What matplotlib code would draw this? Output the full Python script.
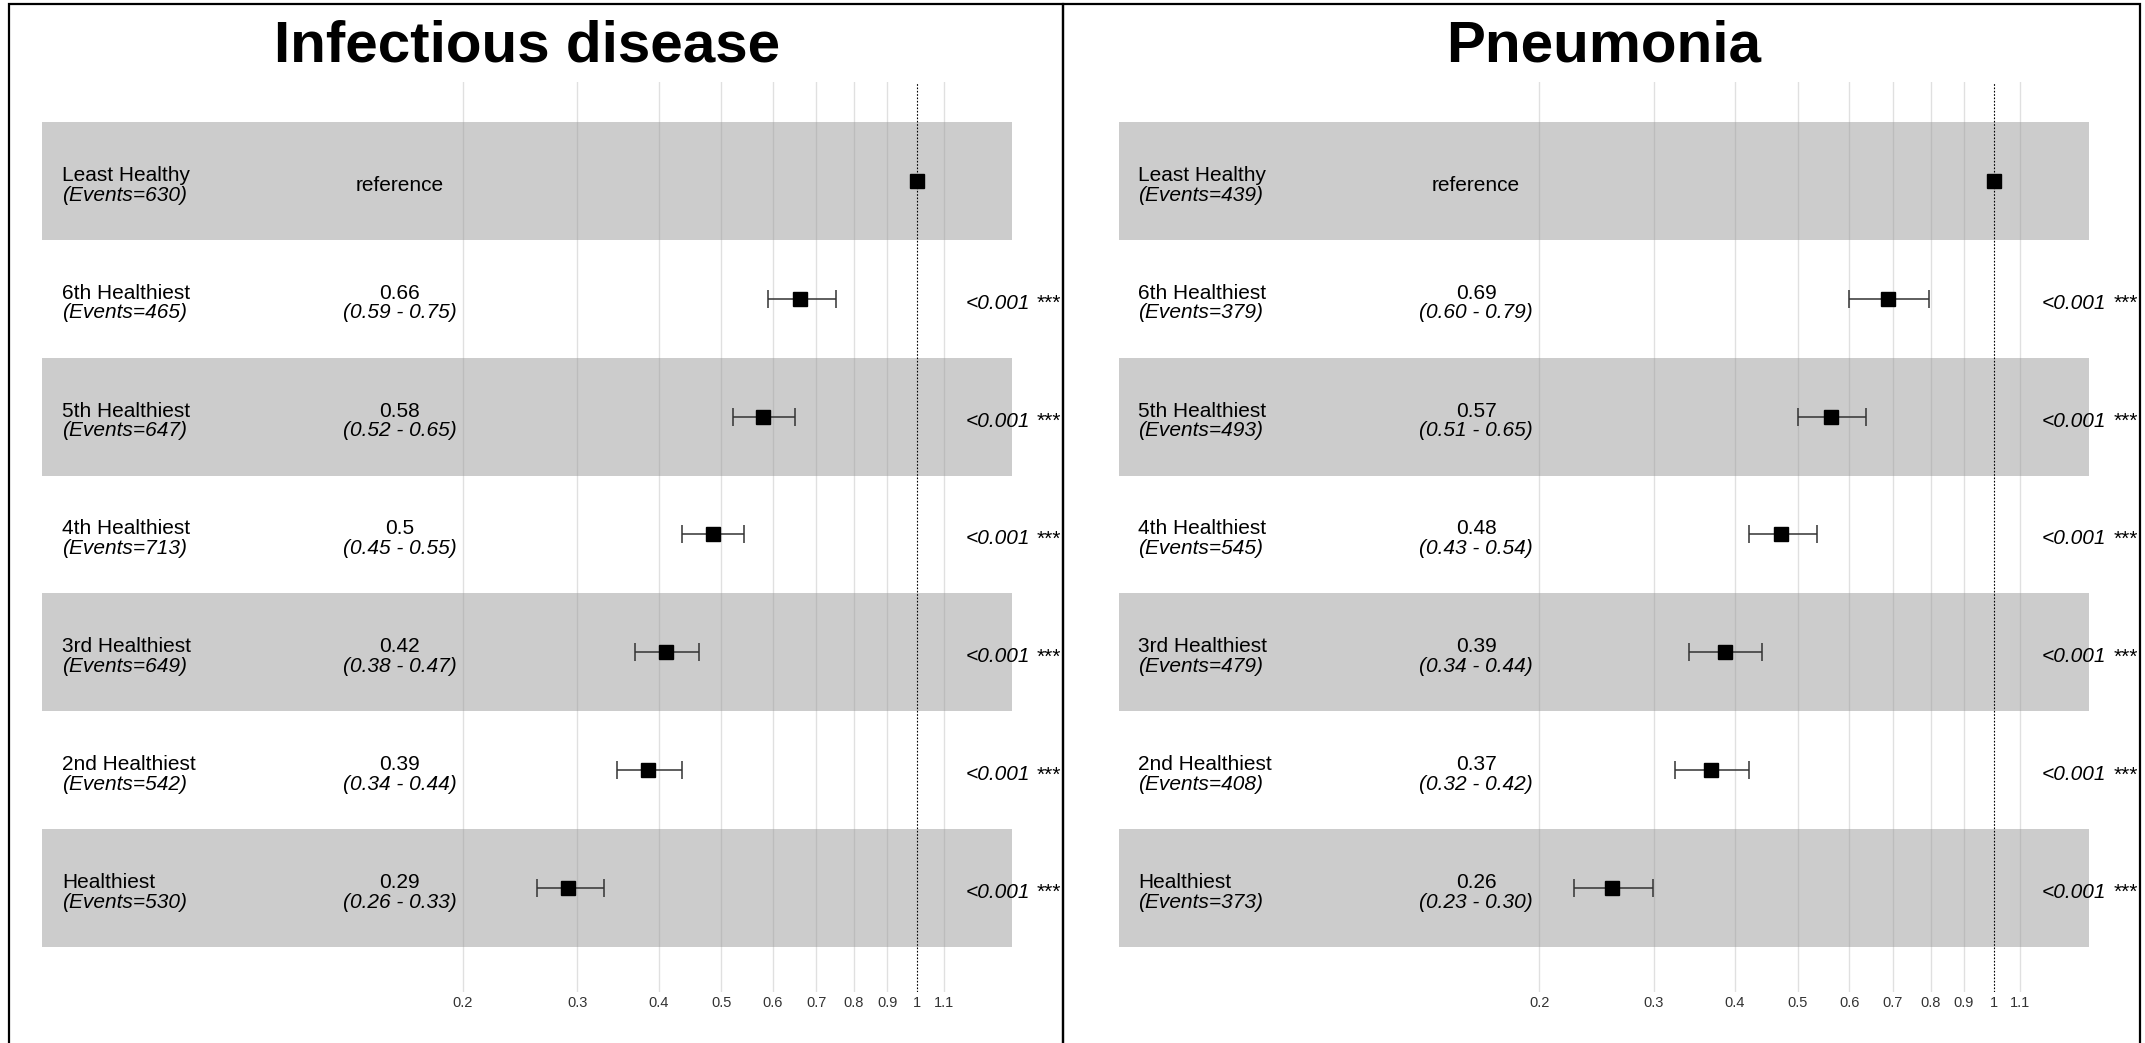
import matplotlib
matplotlib.use('Agg')
import matplotlib.pyplot as plt
import matplotlib.transforms as mtransforms
from matplotlib.patches import Rectangle
from matplotlib.ticker import NullLocator
import numpy as np

plt.rcParams['font.family'] = ['Liberation Sans', 'DejaVu Sans']

groups = ['Least Healthy', '6th Healthiest', '5th Healthiest', '4th Healthiest',
          '3rd Healthiest', '2nd Healthiest', 'Healthiest']

# Infectious disease: printed columns and plotted positions
inf_title = 'Infectious disease'
inf_events = [630, 465, 647, 713, 649, 542, 530]
inf_hr_txt = ['reference', '0.66', '0.58', '0.5', '0.42', '0.39', '0.29']
inf_ci_txt = ['', '(0.59 - 0.75)', '(0.52 - 0.65)', '(0.45 - 0.55)', '(0.38 - 0.47)',
              '(0.34 - 0.44)', '(0.26 - 0.33)']
inf_hr = [1.0, 0.66, 0.58, 0.485, 0.411, 0.386, 0.29]
inf_lo = [np.nan, 0.59, 0.52, 0.434, 0.368, 0.345, 0.26]
inf_hi = [np.nan, 0.75, 0.65, 0.542, 0.462, 0.434, 0.33]
inf_p = ['', '<0.001', '<0.001', '<0.001', '<0.001', '<0.001', '<0.001']

# Pneumonia
pn_title = 'Pneumonia'
pn_events = [439, 379, 493, 545, 479, 408, 373]
pn_hr_txt = ['reference', '0.69', '0.57', '0.48', '0.39', '0.37', '0.26']
pn_ci_txt = ['', '(0.60 - 0.79)', '(0.51 - 0.65)', '(0.43 - 0.54)', '(0.34 - 0.44)',
             '(0.32 - 0.42)', '(0.23 - 0.30)']
pn_hr = [1.0, 0.687, 0.563, 0.471, 0.386, 0.368, 0.259]
pn_lo = [np.nan, 0.60, 0.50, 0.42, 0.34, 0.323, 0.226]
pn_hi = [np.nan, 0.795, 0.636, 0.534, 0.44, 0.421, 0.299]
pn_p = ['', '<0.001', '<0.001', '<0.001', '<0.001', '<0.001', '<0.001']

ticks = [0.2, 0.3, 0.4, 0.5, 0.6, 0.7, 0.8, 0.9, 1, 1.1]
tick_labels = ['0.2', '0.3', '0.4', '0.5', '0.6', '0.7', '0.8', '0.9', '1', '1.1']

W, H = 2145, 1043
AX_W = 970


def px_box(x0, x1, y0, y1):
    return [x0 / W, 1 - y1 / H, (x1 - x0) / W, (y1 - y0) / H]


def draw_panel(fig, x0, title, events, hr_txt, ci_txt, hr, lo, hi, pvals):
    ax = fig.add_axes(px_box(x0, x0 + AX_W, 82, 992))
    ax.set_xscale('log')
    ax.set_xlim(0.04497, 1.4004)
    ax.set_ylim(6.88, -0.837)
    ax.patch.set_alpha(0)
    for s in ax.spines.values():
        s.set_visible(False)

    n = len(groups)
    y = np.arange(n)
    for i in range(0, n, 2):
        ax.axhspan(i - 0.5, i + 0.5, color='#cccccc', lw=0, zorder=0)

    for t in ticks:
        if t != 1:
            ax.axvline(t, color='#999999', alpha=0.3, lw=1, zorder=1)
    ax.axvline(1, color='black', lw=0.8, ls=(0, (1.5, 1.5)), zorder=2)

    hr = np.array(hr)
    lo = np.array(lo)
    hi = np.array(hi)
    ax.errorbar(hr[1:], y[1:], xerr=[hr[1:] - lo[1:], hi[1:] - hr[1:]], fmt='none',
                ecolor='#333333', elinewidth=1.1, capsize=6.5, capthick=1.1, zorder=3)
    ax.plot(hr, y, 's', color='black', ms=10, zorder=4)

    ax.set_xticks(ticks)
    ax.set_xticklabels(tick_labels)
    ax.xaxis.set_minor_locator(NullLocator())
    ax.tick_params(axis='x', length=0, pad=3, labelsize=10.5, labelcolor='#333333')
    ax.set_yticks([])

    trans = mtransforms.blended_transform_factory(ax.transAxes, ax.transData)
    fs = 15
    for i in range(n):
        ax.text(0.0206, y[i], groups[i], transform=trans, fontsize=fs, va='baseline')
        ax.text(0.0206, y[i] + 0.168, '(Events=%d)' % events[i], transform=trans,
                fontsize=fs, va='baseline', style='italic')
        if not ci_txt[i]:
            ax.text(0.3686, y[i] + 0.085, hr_txt[i], transform=trans, fontsize=fs,
                    va='baseline', ha='center')
        else:
            ax.text(0.3686, y[i], hr_txt[i], transform=trans, fontsize=fs,
                    va='baseline', ha='center')
            ax.text(0.3686, y[i] + 0.168, ci_txt[i], transform=trans, fontsize=fs,
                    va='baseline', ha='center', style='italic')
        if pvals[i]:
            pt = ax.text(0.952, y[i] + 0.085, pvals[i], transform=trans, fontsize=fs,
                         va='baseline', ha='left', style='italic')
            ax.annotate('***', xy=(1, 0), xycoords=pt, xytext=(5, 0),
                        textcoords='offset points', fontsize=fs, va='bottom', ha='left')

    fig.text((x0 + AX_W / 2) / W, 1 - 61 / H, title, ha='center', va='baseline',
             fontsize=42, fontweight='bold')
    return ax


def plot_forest():
    fig = plt.figure(figsize=(W / 100, H / 100), dpi=100)
    draw_panel(fig, 42, inf_title, inf_events, inf_hr_txt, inf_ci_txt,
               inf_hr, inf_lo, inf_hi, inf_p)
    draw_panel(fig, 1118.5, pn_title, pn_events, pn_hr_txt, pn_ci_txt,
               pn_hr, pn_lo, pn_hi, pn_p)

    # panel frames, open at the bottom edge of the image
    for xa, xb in [(8.5, 1063), (1063, 2140)]:
        fig.add_artist(Rectangle((xa / W, -0.05), (xb - xa) / W, 1.05 - 4 / H,
                                 transform=fig.transFigure, fill=False,
                                 ec='black', lw=1.6, zorder=10))
    fig.savefig('out.png', dpi=100)


if __name__ == "__main__":
    plot_forest()
